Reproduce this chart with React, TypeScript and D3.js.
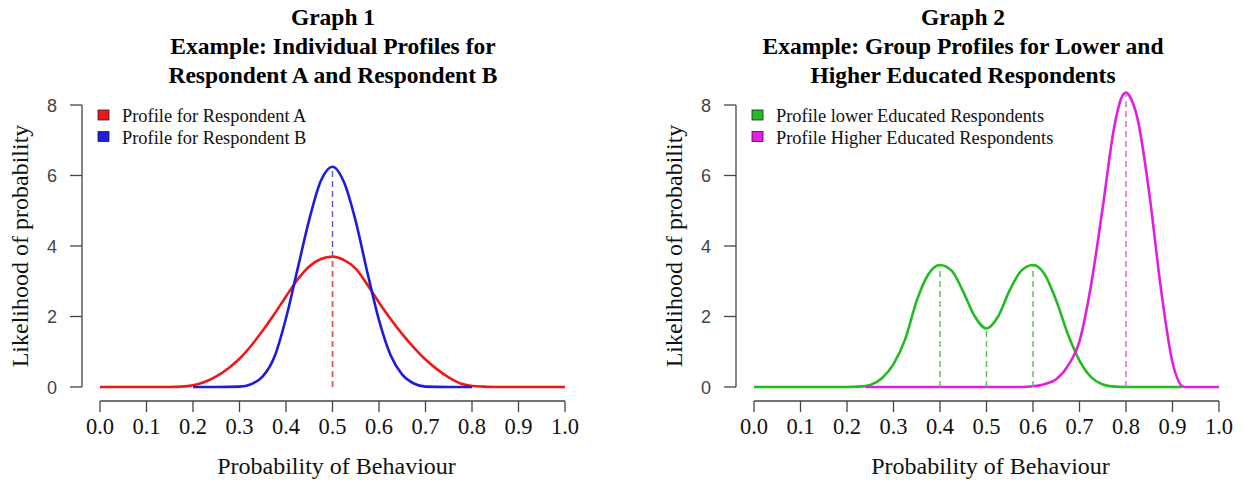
import React from "react";
import * as d3 from "d3";

// ---- data ----
const xTicks = [0, 0.1, 0.2, 0.3, 0.4, 0.5, 0.6, 0.7, 0.8, 0.9, 1.0];
const yTicks = [0, 2, 4, 6, 8];

// graph 1
const respAx = [0, 0.1, 0.15, 0.175, 0.2, 0.225, 0.25, 0.275, 0.3, 0.325, 0.35, 0.375, 0.4, 0.425, 0.45, 0.475, 0.5, 0.525, 0.55, 0.575, 0.6, 0.625, 0.65, 0.675, 0.7, 0.725, 0.75, 0.775, 0.8, 0.825, 0.85, 0.9, 1.0];
const respAy = [0, 0, 0, 0.01, 0.05, 0.14, 0.3, 0.52, 0.8, 1.17, 1.6, 2.07, 2.57, 3.05, 3.42, 3.63, 3.7, 3.6, 3.36, 2.9, 2.4, 1.93, 1.5, 1.12, 0.78, 0.5, 0.27, 0.1, 0.03, 0.01, 0, 0, 0];
const respBx = [0.2, 0.25, 0.3, 0.325, 0.35, 0.375, 0.4, 0.425, 0.45, 0.475, 0.5, 0.525, 0.55, 0.575, 0.6, 0.625, 0.65, 0.675, 0.7, 0.75, 0.8];
const respBy = [0, 0, 0.01, 0.08, 0.3, 0.85, 1.95, 3.35, 4.75, 5.85, 6.25, 5.8, 4.7, 3.25, 1.9, 0.9, 0.35, 0.1, 0.01, 0, 0];
const modesA = [0.5];
const modesB = [0.5];

// graph 2
const lowerX = [0, 0.1, 0.2, 0.225, 0.25, 0.275, 0.3, 0.325, 0.35, 0.375, 0.4, 0.425, 0.45, 0.475, 0.5, 0.525, 0.55, 0.575, 0.6, 0.625, 0.65, 0.675, 0.7, 0.725, 0.75, 0.775, 0.8, 0.85, 0.92];
const lowerY = [0, 0, 0, 0.01, 0.06, 0.25, 0.65, 1.35, 2.45, 3.2, 3.46, 3.3, 2.7, 2.0, 1.66, 2.0, 2.75, 3.3, 3.46, 3.2, 2.45, 1.5, 0.75, 0.28, 0.07, 0.01, 0, 0, 0];
const higherX = [0.24, 0.3, 0.4, 0.5, 0.575, 0.6, 0.625, 0.65, 0.675, 0.7, 0.725, 0.75, 0.775, 0.79, 0.8, 0.81, 0.825, 0.85, 0.875, 0.9, 0.925, 0.95, 1.0];
const higherY = [0, 0, 0, 0, 0, 0.02, 0.08, 0.22, 0.6, 1.3, 2.9, 5.1, 7.4, 8.2, 8.35, 8.2, 7.6, 5.5, 2.8, 0.7, 0, 0, 0];
const modesLower = [0.4, 0.5, 0.6];
const modesHigher = [0.8];

const serif = "'Liberation Serif', 'Times New Roman', serif";
const sans = "'Liberation Sans', Arial, sans-serif";

type Series = { xs: number[]; ys: number[]; modes: number[]; color: string; dash: string; label: string };

function Panel({ x0, x1, axisX, titleX, titles, series }: { x0: number; x1: number; axisX: number; titleX: number; titles: string[]; series: Series[] }) {
  const x = d3.scaleLinear().domain([0, 1]).range([x0, x1]);
  const y = d3.scaleLinear().domain([0, 8]).range([387, 105]);
  const line = d3.line<[number, number]>().x(d => x(d[0])).y(d => y(d[1])).curve(d3.curveMonotoneX);
  const cx = (x0 + x1) / 2;
  const axisY = 401;
  return (
    <g>
      {titles.map((t, i) => (
        <text key={t} x={titleX} y={25 + i * 29} textAnchor="middle" fontFamily={serif} fontWeight="bold" fontSize={23.5} fill="#000">{t}</text>
      ))}
      {/* y axis */}
      <line x1={axisX} x2={axisX} y1={y(0)} y2={y(8)} stroke="#444" strokeWidth={1.3} />
      {yTicks.map(t => (
        <g key={t}>
          <line x1={axisX - 12} x2={axisX} y1={y(t)} y2={y(t)} stroke="#444" strokeWidth={1.3} />
          <text x={axisX - 25} y={y(t) + 6.5} textAnchor="end" fontFamily={sans} fontSize={18} fill="#444">{t}</text>
        </g>
      ))}
      <text transform={`translate(${axisX - 54},${(y(0) + y(8)) / 2}) rotate(-90)`} textAnchor="middle" fontFamily={serif} fontSize={24} fill="#111">Likelihood of probability</text>
      {/* x axis */}
      <line x1={x(0)} x2={x(1)} y1={axisY} y2={axisY} stroke="#444" strokeWidth={1.3} />
      {xTicks.map(t => (
        <g key={t}>
          <line x1={x(t)} x2={x(t)} y1={axisY} y2={axisY + 11} stroke="#444" strokeWidth={1.3} />
          <text x={x(t)} y={434} textAnchor="middle" fontFamily={serif} fontSize={22.5} fill="#111">{t.toFixed(1)}</text>
        </g>
      ))}
      <text x={cx + 4} y={474} textAnchor="middle" fontFamily={serif} fontSize={24} fill="#111">Probability of Behaviour</text>
      {/* curves */}
      {series.map(s => (
        <path key={s.label} d={line(s.xs.map((v, i) => [v, s.ys[i]] as [number, number])) || ""} fill="none" stroke={s.color} strokeWidth={2.6} strokeLinejoin="round" />
      ))}
      {/* mode lines */}
      {[...series].reverse().map(s => s.modes.map(m => {
        const i = s.xs.indexOf(m);
        return <line key={s.label + m} x1={x(m)} x2={x(m)} y1={y(0)} y2={y(s.ys[i])} stroke={s.dash} strokeWidth={1.4} strokeDasharray="6,4" />;
      }))}
      {/* legend */}
      {series.map((s, i) => (
        <g key={"lg" + s.label}>
          <rect x={axisX + 16} y={110 + i * 21.5} width={11} height={10} fill={s.color} stroke="#222" strokeWidth={0.8} />
          <text x={axisX + 40} y={122 + i * 21.5} fontFamily={serif} fontSize={18.4} fill="#111">{s.label}</text>
        </g>
      ))}
    </g>
  );
}

export default function App() {
  const g1: Series[] = [
    { xs: respAx, ys: respAy, modes: modesA, color: "#ee1818", dash: "#dd5a5a", label: "Profile for Respondent A" },
    { xs: respBx, ys: respBy, modes: modesB, color: "#1c1cdc", dash: "#5a5ad8", label: "Profile for Respondent B" },
  ];
  const g2: Series[] = [
    { xs: lowerX, ys: lowerY, modes: modesLower, color: "#22bb22", dash: "#55b955", label: "Profile lower Educated Respondents" },
    { xs: higherX, ys: higherY, modes: modesHigher, color: "#e21ee2", dash: "#dd5add", label: "Profile Higher Educated Respondents" },
  ];
  return (
    <svg width={1244} height={480} style={{ position: "absolute", left: 0, top: 0, background: "#fff" }}>
      <Panel x0={100} x1={565} axisX={82} titleX={333} titles={["Graph 1", "Example: Individual Profiles for", "Respondent A and Respondent B"]} series={g1} />
      <Panel x0={754} x1={1219} axisX={736} titleX={963} titles={["Graph 2", "Example: Group Profiles for Lower and", "Higher Educated Respondents"]} series={g2} />
    </svg>
  );
}
